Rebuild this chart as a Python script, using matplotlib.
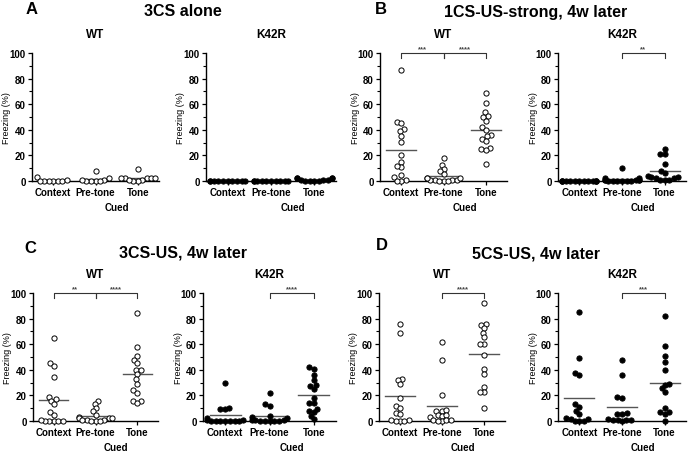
import numpy as np
import matplotlib.pyplot as plt
from matplotlib.transforms import blended_transform_factory

plt.rcParams['font.family'] = ['Liberation Sans', 'DejaVu Sans']
plt.rcParams['font.weight'] = 'bold'

W, H = 688, 456
categories = ['Context', 'Pre-tone', 'Tone']

# A: 3CS alone
a_wt_ctx = [3, 0, 0, 0, 0, 0, 0, 1]
a_wt_pre = [8, 1, 0, 0, 0, 2, 0, 1]
a_wt_tone = [9, 2, 1, 2, 0, 2, 0, 2, 2, 1]
a_ko_ctx = [0, 0, 0, 0, 0, 0, 0, 0, 0, 0]
a_ko_pre = [0, 0, 0, 0, 0, 0, 0, 0, 0, 0]
a_ko_tone = [2, 2, 1, 1, 0, 0, 0, 0, 1, 2, 2]

# B: 1CS-US-strong, 4w later
b_wt_ctx = [86.5, 46, 45.7, 41, 39, 35.5, 30.5, 20, 15, 11, 12, 5, 3, 1, 0, 0]
b_wt_pre = [18.3, 12.8, 9.4, 7.6, 5.7, 2, 1, 1, 0, 0, 0, 1, 1, 2, 2]
b_wt_tone = [69, 61, 54, 51, 50, 47, 42, 40, 36, 35, 33, 31.5, 26, 25, 24, 13]
b_ko_ctx = [0, 0, 0, 0, 0, 0, 0, 0, 0, 0, 0, 0, 0]
b_ko_pre = [10.5, 2, 1, 1, 0, 0, 0, 0, 0, 0, 1, 1, 1, 2]
b_ko_tone = [25, 21, 21, 13, 8, 6, 4, 3, 3, 2, 2, 1, 1, 1]

# C: 3CS-US, 4w later
c_wt_ctx = [65, 45, 43, 34, 19, 17, 16, 13, 7, 5, 0, 0, 0, 0, 0, 1]
c_wt_pre = [16, 13.5, 10, 7.8, 5, 3, 2, 2, 1, 1, 0, 0, 0, 1, 2]
c_wt_tone = [84.6, 58, 50.5, 47.4, 45, 40, 40, 36.5, 32.5, 29, 24, 22, 15.6, 16, 14]
c_ko_ctx = [30, 10.5, 9, 9, 2, 1, 1, 0, 0, 0, 0, 0, 0, 0]
c_ko_pre = [21.7, 13, 12, 4, 3, 2, 1, 1, 0, 0, 0, 0, 0, 1]
c_ko_tone = [42.4, 41, 36, 32, 27.5, 28, 25, 18, 14, 14, 9.7, 8, 7, 4, 1.3]

# D: 5CS-US, 4w later
d_wt_ctx = [75.5, 69, 33, 32, 29, 18, 12, 10.5, 6, 5.5, 1, 0, 0, 0, 0.5]
d_wt_pre = [62, 47.4, 20, 7.8, 8.3, 7.8, 4.4, 3, 3.6, 4.7, 0.8, 0, 0.5, 0, 1]
d_wt_tone = [92, 75.5, 74.7, 72.4, 69, 65.6, 60, 60.4, 51.6, 41, 37, 26.6, 22.7, 22.7, 10.4]
d_ko_ctx = [84.8, 49, 37.4, 36, 13, 11.3, 7.9, 5.8, 2, 1.3, 1.3, 0, 0, 0]
d_ko_pre = [48, 36, 18.3, 18.8, 5.5, 5.5, 6, 1.3, 0.8, 0.8, 0.8, 0.8, 0]
d_ko_tone = [82, 58.4, 50.5, 46.3, 39.8, 28.8, 28, 25.4, 22.8, 10.2, 7.3, 7, 5.7, 0]


def px(x, y):
    return x / W, 1 - y / H


def swarm_offsets(vals, d=4.6, xscale=43.0, yscale=1.28, limit=0.4):
    # simple beeswarm in pixel space
    vals = np.asarray(vals, float)
    order = np.argsort(vals, kind='stable')
    placed = []
    off = np.zeros(len(vals))
    for i in order:
        y = vals[i] * yscale
        cands = [0.0]
        for cx, cy in placed:
            dy = y - cy
            if abs(dy) < d:
                dx = np.sqrt(d * d - dy * dy)
                cands += [cx + dx, cx - dx]
        cands.sort(key=lambda c: (abs(c), c))
        for c in cands:
            if all((c - cx) ** 2 + (y - cy) ** 2 >= d * d - 1e-6 for cx, cy in placed):
                break
        placed.append((c, y))
        off[i] = c / xscale
    return np.clip(off, -limit, limit)


def draw(rect, groups, filled, sig, title):
    left, top, right = rect
    x0, y0 = px(left, top + 128)
    ax = fig.add_axes([x0, y0, (right - left) / W, 128 / H])
    for k, vals in enumerate(groups):
        xs = k + swarm_offsets(vals)
        ax.scatter(xs, vals, s=14, facecolor='black' if filled else 'white',
                   edgecolor='black', linewidth=0.7, zorder=3, clip_on=False)
        m = np.mean(vals)
        ax.plot([k - 0.35, k + 0.35], [m, m], color='#555555', lw=1, zorder=2)
    ax.set_xlim(-0.5, 2.5)
    ax.set_ylim(0, 100)
    for s in ['top', 'right']:
        ax.spines[s].set_visible(False)
    for s in ['left', 'bottom']:
        ax.spines[s].set_linewidth(1.0)
    ax.set_yticks(range(0, 101, 20))
    ax.set_yticks(range(10, 100, 20), minor=True)
    ax.set_xticks([0, 1, 2])
    ax.set_xticklabels(categories)
    ax.tick_params(axis='both', labelsize=7, length=3, width=0.9, pad=1.5)
    ax.tick_params(axis='y', which='minor', length=2, width=0.8)
    ax.set_ylabel('Freezing (%)', fontsize=6.5, va='center')
    ax.yaxis.set_label_coords(-25 / (right - left), 0.5)
    tr = blended_transform_factory(ax.transData, ax.transAxes)
    ax.text(1.5, -0.2, 'Cued', transform=tr, ha='center', va='center', fontsize=7)
    for i, j, stars in sig:
        ax.plot([i, i, j, j], [96, 100, 100, 96], color='#333333', lw=0.8, clip_on=False)
        ax.text((i + j) / 2, 100.5, stars, ha='center', va='bottom',
                fontsize=5.5, color='#444444')
    fig.text(*px((left + right) / 2, top - 19), title, ha='center', va='center', fontsize=8.5)
    return ax


fig = plt.figure(figsize=(6.88, 4.56), dpi=100)

# headers
for letter, lx, ly, title, tx, ty in [
        ('A', 32, 10, '3CS alone', 183, 12),
        ('B', 381, 10, '1CS-US-strong, 4w later', 536, 12),
        ('C', 30, 249, '3CS-US, 4w later', 183, 253),
        ('D', 382, 246, '5CS-US, 4w later', 536, 254)]:
    fig.text(*px(lx, ly), letter, ha='center', va='center', fontsize=12)
    fig.text(*px(tx, ty), title, ha='center', va='center', fontsize=11.5)

draw((32, 54, 159), [a_wt_ctx, a_wt_pre, a_wt_tone], False, [], 'WT')
draw((206, 54, 336), [a_ko_ctx, a_ko_pre, a_ko_tone], True, [], 'K42R')
draw((380, 54, 507), [b_wt_ctx, b_wt_pre, b_wt_tone], False,
     [(0, 1, '***'), (1, 2, '****')], 'WT')
draw((558, 54, 686), [b_ko_ctx, b_ko_pre, b_ko_tone], True, [(1, 2, '**')], 'K42R')
draw((33, 294, 158), [c_wt_ctx, c_wt_pre, c_wt_tone], False,
     [(0, 1, '**'), (1, 2, '****')], 'WT')
draw((203, 294, 336), [c_ko_ctx, c_ko_pre, c_ko_tone], True, [(1, 2, '****')], 'K42R')
draw((379, 294, 505), [d_wt_ctx, d_wt_pre, d_wt_tone], False, [(1, 2, '****')], 'WT')
draw((558, 294, 686), [d_ko_ctx, d_ko_pre, d_ko_tone], True, [(1, 2, '***')], 'K42R')

fig.savefig('out.png', dpi=100)
